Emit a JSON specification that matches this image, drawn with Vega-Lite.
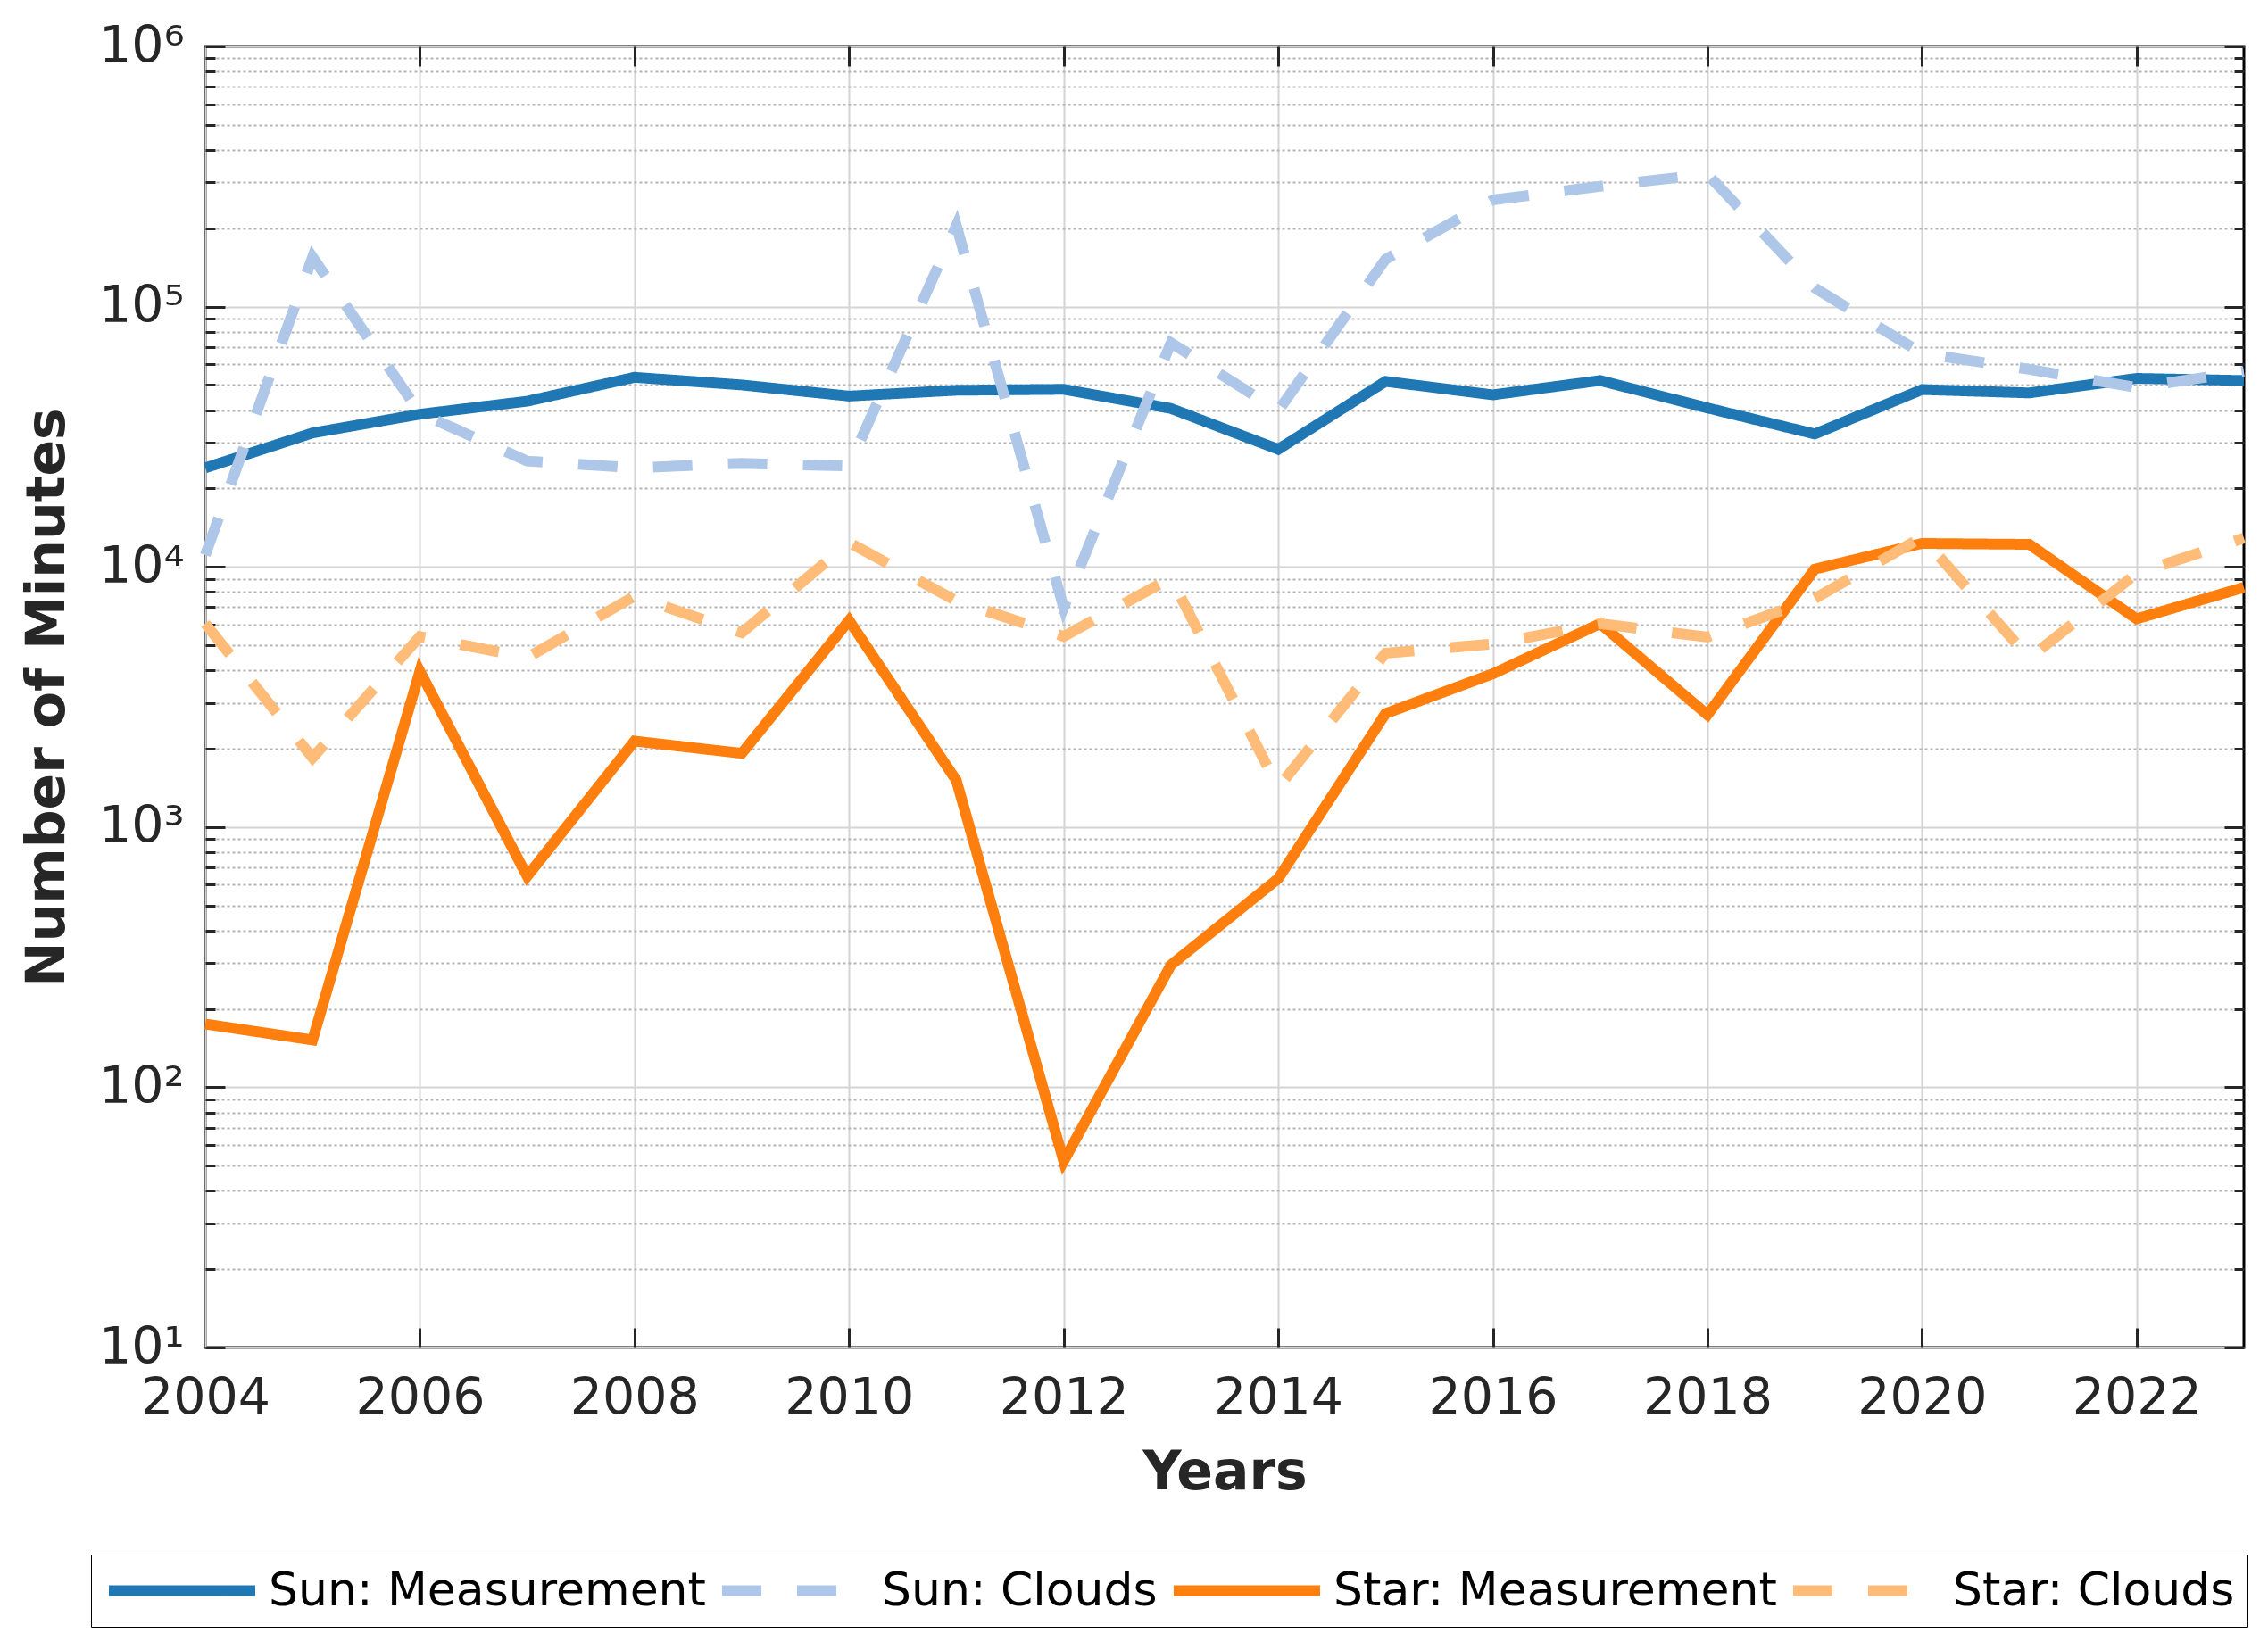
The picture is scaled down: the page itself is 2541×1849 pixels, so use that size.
{
  "$schema": "https://vega.github.io/schema/vega-lite/v6.json",
  "width": 2284,
  "height": 1458,
  "autosize": {"type": "none"},
  "padding": {"left": 230, "top": 52, "right": 27, "bottom": 339},
  "background": "white",
  "config": {
    "font": "DejaVu Sans",
    "view": {"stroke": "black", "strokeWidth": 3},
    "axis": {"domain": false, "labelFlush": false, "labelOverlap": false}
  },
  "data": {
    "values": [
      {"year": 2004, "series": "Sun: Measurement", "minutes": 24000},
      {"year": 2005, "series": "Sun: Measurement", "minutes": 32700},
      {"year": 2006, "series": "Sun: Measurement", "minutes": 38600},
      {"year": 2007, "series": "Sun: Measurement", "minutes": 43300},
      {"year": 2008, "series": "Sun: Measurement", "minutes": 53500},
      {"year": 2009, "series": "Sun: Measurement", "minutes": 50000},
      {"year": 2010, "series": "Sun: Measurement", "minutes": 45300},
      {"year": 2011, "series": "Sun: Measurement", "minutes": 47700},
      {"year": 2012, "series": "Sun: Measurement", "minutes": 48100},
      {"year": 2013, "series": "Sun: Measurement", "minutes": 40600},
      {"year": 2014, "series": "Sun: Measurement", "minutes": 28300},
      {"year": 2015, "series": "Sun: Measurement", "minutes": 51600},
      {"year": 2016, "series": "Sun: Measurement", "minutes": 45800},
      {"year": 2017, "series": "Sun: Measurement", "minutes": 52000},
      {"year": 2018, "series": "Sun: Measurement", "minutes": 40800},
      {"year": 2019, "series": "Sun: Measurement", "minutes": 32400},
      {"year": 2020, "series": "Sun: Measurement", "minutes": 48000},
      {"year": 2021, "series": "Sun: Measurement", "minutes": 46600},
      {"year": 2022, "series": "Sun: Measurement", "minutes": 53000},
      {"year": 2023, "series": "Sun: Measurement", "minutes": 52000},
      {"year": 2004, "series": "Sun: Clouds", "minutes": 11100},
      {"year": 2005, "series": "Sun: Clouds", "minutes": 155000},
      {"year": 2006, "series": "Sun: Clouds", "minutes": 39000},
      {"year": 2007, "series": "Sun: Clouds", "minutes": 25500},
      {"year": 2008, "series": "Sun: Clouds", "minutes": 24000},
      {"year": 2009, "series": "Sun: Clouds", "minutes": 25000},
      {"year": 2010, "series": "Sun: Clouds", "minutes": 24400},
      {"year": 2011, "series": "Sun: Clouds", "minutes": 205000},
      {"year": 2012, "series": "Sun: Clouds", "minutes": 6970},
      {"year": 2013, "series": "Sun: Clouds", "minutes": 72600},
      {"year": 2014, "series": "Sun: Clouds", "minutes": 39800},
      {"year": 2015, "series": "Sun: Clouds", "minutes": 152000},
      {"year": 2016, "series": "Sun: Clouds", "minutes": 257000},
      {"year": 2017, "series": "Sun: Clouds", "minutes": 290000},
      {"year": 2018, "series": "Sun: Clouds", "minutes": 323000},
      {"year": 2019, "series": "Sun: Clouds", "minutes": 118000},
      {"year": 2020, "series": "Sun: Clouds", "minutes": 66100},
      {"year": 2021, "series": "Sun: Clouds", "minutes": 57400},
      {"year": 2022, "series": "Sun: Clouds", "minutes": 48900},
      {"year": 2023, "series": "Sun: Clouds", "minutes": 56300},
      {"year": 2004, "series": "Star: Measurement", "minutes": 175},
      {"year": 2005, "series": "Star: Measurement", "minutes": 152},
      {"year": 2006, "series": "Star: Measurement", "minutes": 3970},
      {"year": 2007, "series": "Star: Measurement", "minutes": 647},
      {"year": 2008, "series": "Star: Measurement", "minutes": 2140},
      {"year": 2009, "series": "Star: Measurement", "minutes": 1920},
      {"year": 2010, "series": "Star: Measurement", "minutes": 6220},
      {"year": 2011, "series": "Star: Measurement", "minutes": 1510},
      {"year": 2012, "series": "Star: Measurement", "minutes": 52},
      {"year": 2013, "series": "Star: Measurement", "minutes": 295},
      {"year": 2014, "series": "Star: Measurement", "minutes": 634},
      {"year": 2015, "series": "Star: Measurement", "minutes": 2730},
      {"year": 2016, "series": "Star: Measurement", "minutes": 3880},
      {"year": 2017, "series": "Star: Measurement", "minutes": 6050},
      {"year": 2018, "series": "Star: Measurement", "minutes": 2700},
      {"year": 2019, "series": "Star: Measurement", "minutes": 9800},
      {"year": 2020, "series": "Star: Measurement", "minutes": 12300},
      {"year": 2021, "series": "Star: Measurement", "minutes": 12200},
      {"year": 2022, "series": "Star: Measurement", "minutes": 6310},
      {"year": 2023, "series": "Star: Measurement", "minutes": 8340},
      {"year": 2004, "series": "Star: Clouds", "minutes": 6050},
      {"year": 2005, "series": "Star: Clouds", "minutes": 1845},
      {"year": 2006, "series": "Star: Clouds", "minutes": 5400},
      {"year": 2007, "series": "Star: Clouds", "minutes": 4480},
      {"year": 2008, "series": "Star: Clouds", "minutes": 7710},
      {"year": 2009, "series": "Star: Clouds", "minutes": 5580},
      {"year": 2010, "series": "Star: Clouds", "minutes": 12400},
      {"year": 2011, "series": "Star: Clouds", "minutes": 7400},
      {"year": 2012, "series": "Star: Clouds", "minutes": 5400},
      {"year": 2013, "series": "Star: Clouds", "minutes": 9060},
      {"year": 2014, "series": "Star: Clouds", "minutes": 1420},
      {"year": 2015, "series": "Star: Clouds", "minutes": 4660},
      {"year": 2016, "series": "Star: Clouds", "minutes": 5050},
      {"year": 2017, "series": "Star: Clouds", "minutes": 6050},
      {"year": 2018, "series": "Star: Clouds", "minutes": 5370},
      {"year": 2019, "series": "Star: Clouds", "minutes": 7550},
      {"year": 2020, "series": "Star: Clouds", "minutes": 13000},
      {"year": 2021, "series": "Star: Clouds", "minutes": 4460},
      {"year": 2022, "series": "Star: Clouds", "minutes": 9430},
      {"year": 2023, "series": "Star: Clouds", "minutes": 12900}
    ]
  },
  "layer": [
    {
      "mark": {"type": "line", "strokeOpacity": 0},
      "encoding": {
        "x": {"field": "year", "type": "quantitative", "scale": {"domain": [2004, 2023], "nice": false, "zero": false},
          "axis": {"orient": "top", "values": [2006, 2008, 2010, 2012, 2014, 2016, 2018, 2020, 2022], "labels": false, "ticks": true, "tickSize": -22, "tickWidth": 3, "tickColor": "#262626", "grid": false, "title": null}},
        "y": {"field": "minutes", "type": "quantitative", "scale": {"type": "log", "domain": [10, 1000000], "nice": false},
          "axis": {"orient": "left", "values": [20,30,40,50,60,70,80,90,200,300,400,500,600,700,800,900,2000,3000,4000,5000,6000,7000,8000,9000,20000,30000,40000,50000,60000,70000,80000,90000,200000,300000,400000,500000,600000,700000,800000,900000],
            "labels": false, "ticks": true, "tickSize": -11, "tickWidth": 3, "tickColor": "#262626", "grid": true, "gridColor": "#b4b4b4", "gridDash": [3, 3], "gridWidth": 2, "title": null}}
      }
    },
    {
      "mark": {"type": "line", "strokeOpacity": 0},
      "encoding": {
        "x": {"field": "year", "type": "quantitative", "scale": {"domain": [2004, 2023], "nice": false, "zero": false},
          "axis": {"orient": "bottom", "values": [2006, 2008, 2010, 2012, 2014, 2016, 2018, 2020, 2022], "labels": false, "ticks": true, "tickSize": -22, "tickWidth": 3, "tickColor": "#262626", "grid": false, "title": null}},
        "y": {"field": "minutes", "type": "quantitative", "scale": {"type": "log", "domain": [10, 1000000], "nice": false},
          "axis": {"orient": "right", "values": [20,30,40,50,60,70,80,90,200,300,400,500,600,700,800,900,2000,3000,4000,5000,6000,7000,8000,9000,20000,30000,40000,50000,60000,70000,80000,90000,200000,300000,400000,500000,600000,700000,800000,900000],
            "labels": false, "ticks": true, "tickSize": -11, "tickWidth": 3, "tickColor": "#262626", "grid": false, "title": null}}
      }
    },
    {
      "mark": {"type": "line", "strokeOpacity": 0},
      "encoding": {
        "x": {"field": "year", "type": "quantitative", "scale": {"domain": [2004, 2023], "nice": false, "zero": false}, "axis": null},
        "y": {"field": "minutes", "type": "quantitative", "scale": {"type": "log", "domain": [10, 1000000], "nice": false},
          "axis": {"orient": "left", "values": [10, 100, 1000, 10000, 100000, 1000000], "labels": false, "ticks": true, "tickSize": -22, "tickWidth": 3, "tickColor": "#262626", "grid": false, "title": null}}
      }
    },
    {
      "mark": {"type": "line", "strokeOpacity": 0},
      "encoding": {
        "x": {"field": "year", "type": "quantitative", "scale": {"domain": [2004, 2023], "nice": false, "zero": false}, "axis": null},
        "y": {"field": "minutes", "type": "quantitative", "scale": {"type": "log", "domain": [10, 1000000], "nice": false},
          "axis": {"orient": "right", "values": [10, 100, 1000, 10000, 100000, 1000000], "labels": false, "ticks": true, "tickSize": -22, "tickWidth": 3, "tickColor": "#262626", "grid": false, "title": null}}
      }
    },
    {
      "mark": {"type": "line", "strokeWidth": 12},
      "encoding": {
        "x": {"field": "year", "type": "quantitative", "scale": {"domain": [2004, 2023], "nice": false, "zero": false},
          "axis": {"orient": "bottom", "values": [2004, 2006, 2008, 2010, 2012, 2014, 2016, 2018, 2020, 2022], "format": "d", "ticks": false, "labelPadding": 29, "labelFontSize": 57, "labelColor": "#262626", "grid": true, "gridColor": "#d4d4d4", "gridWidth": 2,
            "title": "Years", "titleFontSize": 60, "titleFontWeight": "bold", "titleColor": "#262626", "titlePadding": 26}},
        "y": {"field": "minutes", "type": "quantitative", "scale": {"type": "log", "domain": [10, 1000000], "nice": false},
          "axis": {"orient": "left", "values": [10, 100, 1000, 10000, 100000, 1000000], "labelExpr": "'10' + ['⁰','¹','²','³','⁴','⁵','⁶'][round(log(datum.value)/LN10)]", "ticks": false, "labelPadding": 24, "labelFontSize": 57, "labelColor": "#262626", "grid": true, "gridColor": "#d4d4d4", "gridWidth": 2,
            "title": "Number of Minutes", "titleFontSize": 60, "titleFontWeight": "bold", "titleColor": "#262626", "titlePadding": 26}},
        "color": {"field": "series", "type": "nominal", "sort": null,
          "scale": {"domain": ["Sun: Measurement", "Sun: Clouds", "Star: Measurement", "Star: Clouds"], "range": ["#1f77b4", "#aec7e8", "#ff7f0e", "#ffbb78"]},
          "legend": {"orient": "none", "legendX": -128, "legendY": 1690, "direction": "horizontal", "columns": 4, "title": null, "symbolType": "M-1,0H7", "symbolSize": 1681, "symbolStrokeWidth": 12, "labelFontSize": 52, "labelOffset": 132, "columnPadding": -6, "padding": 14, "strokeColor": "black", "labelColor": "black", "labelLimit": 0, "gridAlign": "none"}},
        "strokeDash": {"field": "series", "type": "nominal", "sort": null,
          "scale": {"domain": ["Sun: Measurement", "Sun: Clouds", "Star: Measurement", "Star: Clouds"], "range": [[1, 0], [44, 40], [1, 0], [44, 40]]},
          "legend": {"orient": "none", "legendX": -128, "legendY": 1690, "direction": "horizontal", "columns": 4, "title": null, "symbolType": "M-1,0H7", "symbolSize": 1681, "symbolStrokeWidth": 12, "labelFontSize": 52, "labelOffset": 132, "columnPadding": -6, "padding": 14, "strokeColor": "black", "labelColor": "black", "labelLimit": 0, "gridAlign": "none"}}
      }
    }
  ]
}
